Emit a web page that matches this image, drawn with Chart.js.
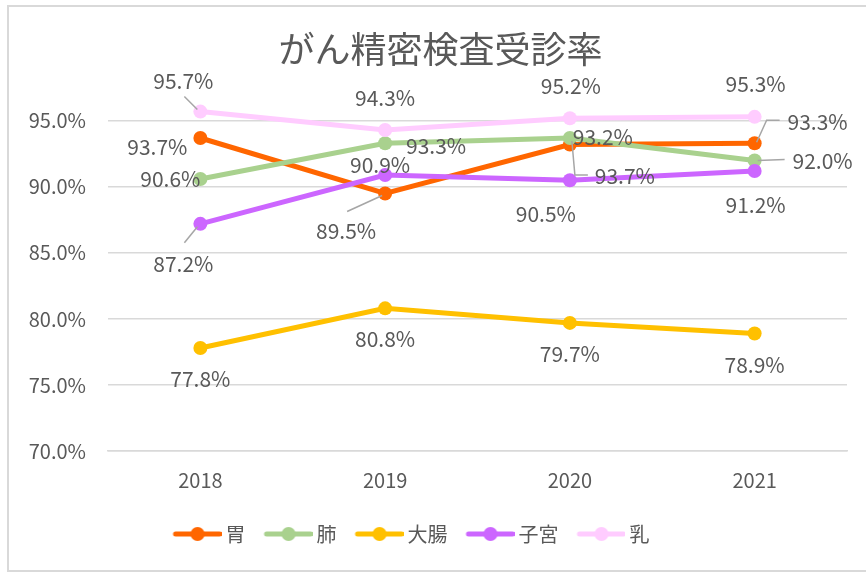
<!DOCTYPE html>
<html>
<head>
<meta charset="utf-8">
<script src="https://cdn.jsdelivr.net/npm/chart.js@4.4.0/dist/chart.umd.min.js"></script>
<style>
  body { margin: 0; background: #fff; overflow: hidden; }
  #frame { position: absolute; left: 7px; top: 5px; width: 900px; height: 567px; border: 2px solid #d9d9d9; box-sizing: border-box; }
  #wrap { position: absolute; left: 0; top: 0; width: 866px; height: 572px; }
</style>
</head>
<body>
<div id="frame"></div>
<div id="wrap"><canvas id="myChart"></canvas></div>
<script>
// 年度と各部位の受診率(%)
const years = ["2018", "2019", "2020", "2021"];
const stomach = [93.7, 89.5, 93.2, 93.3];   // 胃
const lung = [90.6, 93.3, 93.7, 92.0];      // 肺
const colon = [77.8, 80.8, 79.7, 78.9];     // 大腸
const uterus = [87.2, 90.9, 90.5, 91.2];    // 子宮
const breast = [95.7, 94.3, 95.2, 95.3];    // 乳
const yTicks = [70, 75, 80, 85, 90, 95];

const seriesNames = ["胃", "肺", "大腸", "子宮", "乳"];
const seriesData = [stomach, lung, colon, uterus, breast];
const seriesColors = ["#FF6600", "#A9D18E", "#FFC000", "#CC66FF", "#FFCCFF"];

// ラベルの位置 (点からのずれ) と引き出し線
const labelOffsets = [
  [[-43, 9], [-39, 38], [33, -8], [63, -21]],
  [[-30, 0], [51, 3], [55, 38], [68, 1]],
  [[0, 31], [0, 31], [0, 31], [0, 32]],
  [[-17, 40], [-5, -10], [-24, 34], [1, 34]],
  [[-17, -31], [0, -32], [1, -32], [1, -33]]
];
const leaders = [
  [null, [[-38, 18], [-3, 2]], null, [[2, -1], [12, -23], [25, -23]]],
  [null, null, [[2, 3], [5, 37], [18, 37]], [[3, 0], [30, -1]]],
  [null, null, null, null],
  [[[-16, 19], [-3, 3]], null, null, null],
  [[[-16, -15], [-3, -2]], null, null, null]
];

const textColor = "#595959";
const fontFamily = '"Noto Sans CJK JP", "Noto Sans", sans-serif';

// 凡例用アイコン (線 + マーカー)
function makeLegendIcon(color) {
  const c = document.createElement("canvas");
  c.width = 60; c.height = 16;
  const g = c.getContext("2d");
  g.strokeStyle = color;
  g.lineWidth = 5;
  g.lineCap = "round";
  g.beginPath();
  g.moveTo(14, 8); g.lineTo(58, 8);
  g.stroke();
  g.fillStyle = color;
  g.beginPath();
  g.arc(36, 8, 7, 0, Math.PI * 2);
  g.fill();
  return c;
}
const legendIcons = seriesColors.map(makeLegendIcon);

const pointLabels = {
  id: "pointLabels",
  afterDatasetsDraw(chart) {
    const ctx = chart.ctx;
    ctx.save();
    ctx.font = "21px " + fontFamily;
    ctx.fillStyle = textColor;
    ctx.strokeStyle = "#A6A6A6";
    ctx.lineWidth = 1.5;
    ctx.textAlign = "center";
    ctx.textBaseline = "middle";
    chart.data.datasets.forEach((ds, i) => {
      const meta = chart.getDatasetMeta(i);
      meta.data.forEach((pt, j) => {
        const lead = leaders[i][j];
        if (lead) {
          ctx.beginPath();
          lead.forEach(([lx, ly], k) => {
            if (k === 0) ctx.moveTo(pt.x + lx, pt.y + ly);
            else ctx.lineTo(pt.x + lx, pt.y + ly);
          });
          ctx.stroke();
        }
        const [dx, dy] = labelOffsets[i][j];
        ctx.fillText(ds.data[j].toFixed(1) + "%", pt.x + dx, pt.y + dy);
      });
    });
    ctx.restore();
  }
};

// タイトルと凡例の横位置を調整
const boxShift = {
  id: "boxShift",
  afterLayout(chart) {
    if (chart.legend) {
      chart.legend.left -= 15;
      chart.legend.right -= 15;
    }
    if (chart.titleBlock) {
      chart.titleBlock.left += 17;
      chart.titleBlock.right += 17;
    }
  }
};

const ctx = document.getElementById("myChart").getContext("2d");
const chart = new Chart(ctx, {
  type: "line",
  data: {
    labels: years,
    datasets: seriesNames.map((name, i) => ({
      label: name,
      data: seriesData[i],
      borderColor: seriesColors[i],
      backgroundColor: seriesColors[i],
      borderWidth: 5,
      pointRadius: 7,
      pointBorderWidth: 0,
      pointBackgroundColor: seriesColors[i],
      tension: 0,
      order: seriesNames.length - i
    }))
  },
  options: {
    responsive: true,
    maintainAspectRatio: false,
    animation: false,
    layout: { padding: { left: 0, right: 19, top: 0, bottom: 18 } },
    scales: {
      x: {
        offset: true,
        grid: { display: false, drawTicks: false },
        border: { color: "#D9D9D9", width: 1.5 },
        ticks: { color: textColor, font: { size: 20, family: fontFamily }, padding: 17 },
        afterFit(scale) { scale.height = 60; }
      },
      y: {
        min: 70,
        max: 98,
        afterBuildTicks(scale) { scale.ticks = yTicks.map(v => ({ value: v })); },
        grid: { color: "#D9D9D9", lineWidth: 1.5, drawTicks: false },
        border: { display: false },
        ticks: {
          color: textColor,
          font: { size: 20, family: fontFamily },
          padding: 22,
          callback: v => v.toFixed(1) + "%"
        },
        afterFit(scale) { scale.width = 108; }
      }
    },
    plugins: {
      title: {
        display: true,
        text: "がん精密検査受診率",
        color: textColor,
        font: { size: 36, family: fontFamily, weight: "normal" },
        padding: { top: 28, bottom: 10 }
      },
      legend: {
        position: "bottom",
        labels: {
          color: textColor,
          font: { size: 20, family: fontFamily },
          usePointStyle: true,
          pointStyleWidth: 48,
          padding: 13,
          sort: (a, b) => a.datasetIndex - b.datasetIndex,
          generateLabels(chart) {
            const items = Chart.defaults.plugins.legend.labels.generateLabels(chart);
            items.forEach(it => { it.pointStyle = legendIcons[it.datasetIndex]; });
            return items;
          }
        }
      },
      tooltip: { enabled: false }
    }
  },
  plugins: [pointLabels, boxShift]
});
</script>
</body>
</html>
